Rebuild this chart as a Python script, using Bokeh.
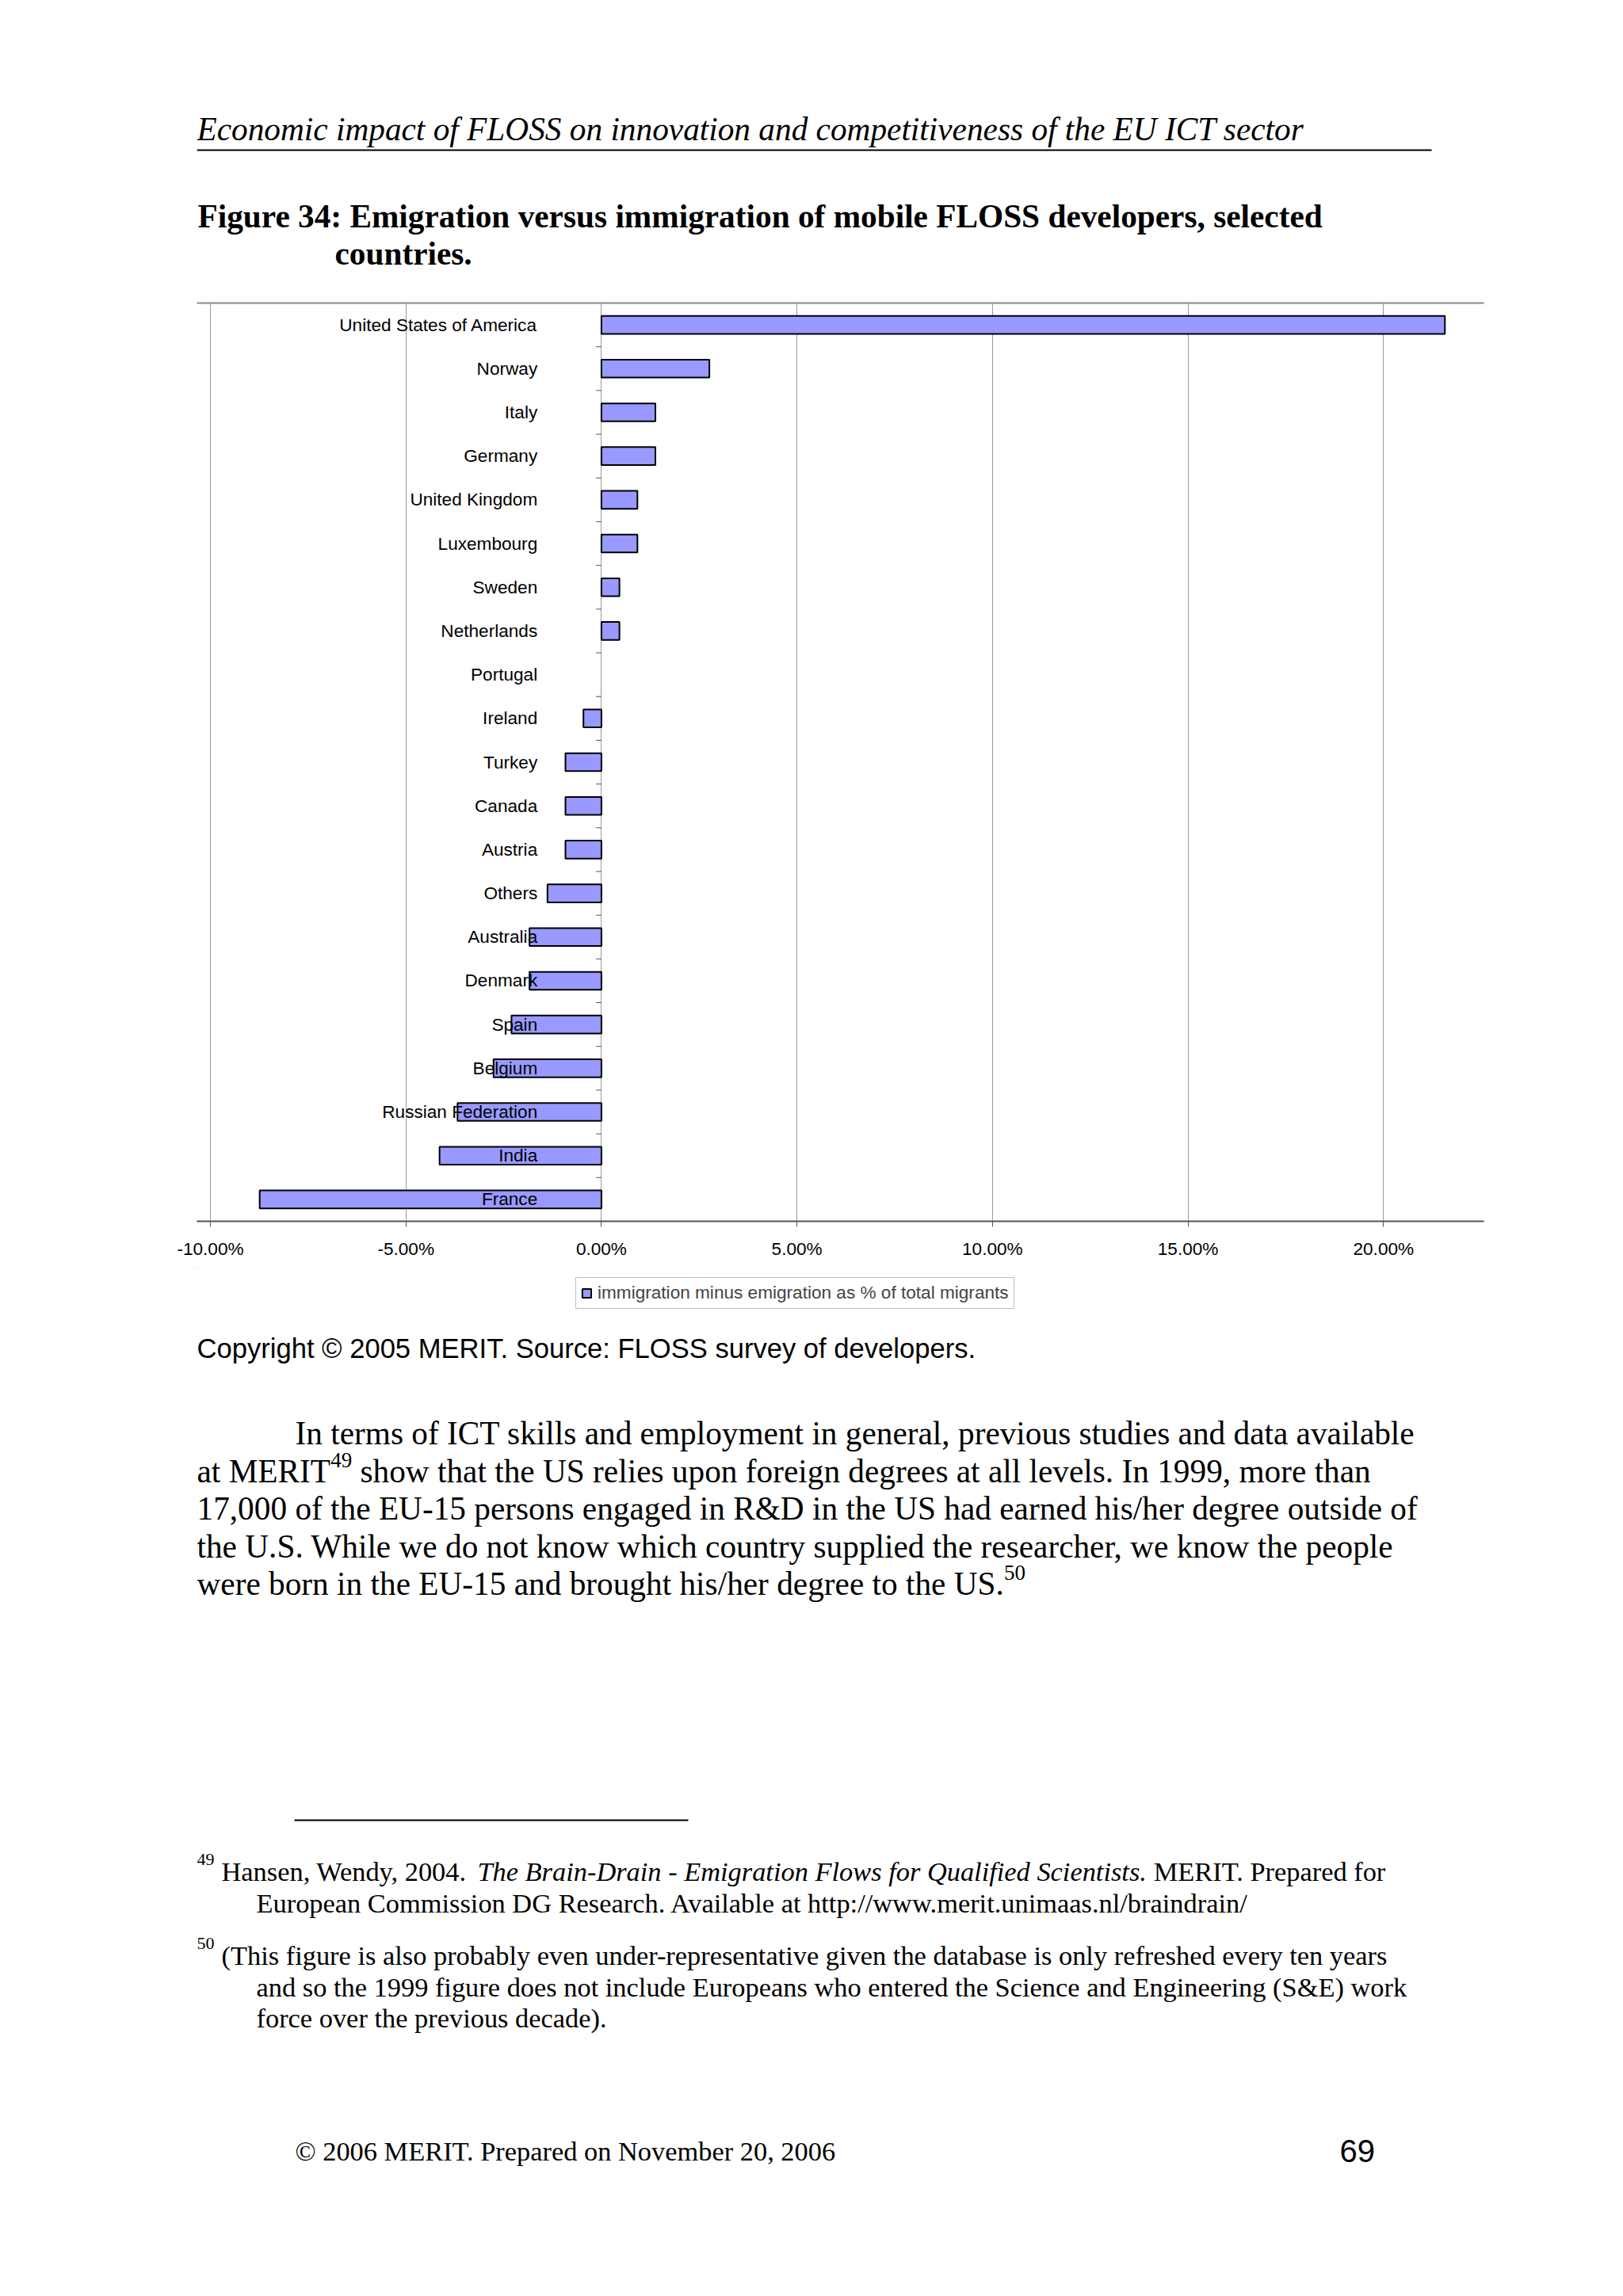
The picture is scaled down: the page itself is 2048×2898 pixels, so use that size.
import numpy as np
from bokeh.plotting import figure
from bokeh.models import (Range1d, FixedTicker, NumeralTickFormatter, LinearAxis,
                          Legend, LegendItem, ColumnDataSource)
from bokeh.layouts import column
from bokeh.core.properties import value
from bokeh.embed import file_html
from bokeh.resources import INLINE

# ---------------- data ----------------
categories = ["United States of America", "Norway", "Italy", "Germany", "United Kingdom",
              "Luxembourg", "Sweden", "Netherlands", "Portugal", "Ireland", "Turkey",
              "Canada", "Austria", "Others", "Australia", "Denmark", "Spain", "Belgium",
              "Russian Federation", "India", "France"]
values_pct = [21.57, 2.76, 1.38, 1.38, 0.92, 0.92, 0.46, 0.46, 0.0, -0.46, -0.92,
              -0.92, -0.92, -1.38, -1.84, -1.84, -2.30, -2.76, -3.68, -4.14, -8.74]
x_ticks_pct = [-10, -5, 0, 5, 10, 15, 20]
legend_label = "immigration minus emigration as % of total migrants"

header_text = "Economic impact of FLOSS on innovation and competitiveness of the EU ICT sector"
title_lines = ["Figure 34: Emigration versus immigration of mobile FLOSS developers, selected",
               "countries."]
source_note = "Copyright \u00a9 2005 MERIT. Source: FLOSS survey of developers."
body_lines = [
    [("In terms of ICT skills and employment in general, previous studies and data available", "n")],
    [("at MERIT", "n"), ("49", "s"), (" show that the US relies upon foreign degrees at all levels. In 1999, more than", "n")],
    [("17,000 of the EU-15 persons engaged in R&D in the US had earned his/her degree outside of", "n")],
    [("the U.S. While we do not know which country supplied the researcher, we know the people", "n")],
    [("were born in the EU-15 and brought his/her degree to the US.", "n"), ("50", "s")],
]
footnotes = [
    ("49", [[("Hansen, Wendy, 2004. ", "n"),
             ("The Brain-Drain - Emigration Flows for Qualified Scientists.", "i"),
             (" MERIT. Prepared for", "n")],
            [("European Commission DG Research. Available at http://www.merit.unimaas.nl/braindrain/", "n")]]),
    ("50", [[("(This figure is also probably even under-representative given the database is only refreshed every ten years", "n")],
            [("and so the 1999 figure does not include Europeans who entered the Science and Engineering (S&E) work", "n")],
            [("force over the previous decade).", "n")]]),
]
footer_text = "\u00a9 2006 MERIT. Prepared on November 20, 2006"
page_number = "69"

# ---------------- fonts & metrics ----------------
SERIF = "Liberation Serif"
SANS = "Liberation Sans"

TIMES = {' ': 250, '!': 333, '"': 408, '#': 500, '$': 500, '%': 833, '&': 778, "'": 180,
         '(': 333, ')': 333, '*': 500, '+': 564, ',': 250, '-': 333, '.': 250, '/': 278,
         ':': 278, ';': 278, '?': 444, '@': 921, '\u00a9': 760,
         'A': 722, 'B': 667, 'C': 667, 'D': 722, 'E': 611, 'F': 556, 'G': 722, 'H': 722,
         'I': 333, 'J': 389, 'K': 722, 'L': 611, 'M': 889, 'N': 722, 'O': 722, 'P': 556,
         'Q': 722, 'R': 667, 'S': 556, 'T': 611, 'U': 722, 'V': 722, 'W': 944, 'X': 722,
         'Y': 722, 'Z': 611,
         'a': 444, 'b': 500, 'c': 444, 'd': 500, 'e': 444, 'f': 333, 'g': 500, 'h': 500,
         'i': 278, 'j': 278, 'k': 500, 'l': 278, 'm': 778, 'n': 500, 'o': 500, 'p': 500,
         'q': 500, 'r': 333, 's': 389, 't': 278, 'u': 500, 'v': 500, 'w': 722, 'x': 500,
         'y': 500, 'z': 444}
for d in "0123456789":
    TIMES[d] = 500
TIMES_I = dict(TIMES)
TIMES_I.update({'A': 611, 'B': 611, 'C': 667, 'D': 722, 'E': 611, 'F': 611, 'G': 722,
                'L': 556, 'M': 833, 'N': 667, 'P': 611, 'Q': 722, 'R': 611, 'S': 500,
                'T': 556, 'W': 833,
                'a': 500, 'f': 278, 'k': 444, 'm': 722, 'r': 389, 'v': 444, 'w': 667,
                'x': 444, 'y': 444, 'z': 389})


def tw(s, size, table=TIMES):
    return sum(table.get(ch, 500) for ch in s) / 1000.0 * size


# every figure shares the same horizontal frame: page x 248 .. 1872
PAGE_W = 2040
FRAME_L, FRAME_R = 248, 1872
BORDER_R = PAGE_W - FRAME_R
BAR_FILL = "#9999FF"
BAR_LINE = "black"
TEXT_DY = -13  # baseline correction for the page texts


def text_fig(height):
    p = figure(width=PAGE_W, height=height, x_range=Range1d(FRAME_L, FRAME_R),
               y_range=Range1d(height, 0), output_backend="svg", toolbar_location=None,
               x_axis_location=None, y_axis_location=None,
               min_border_left=FRAME_L, min_border_right=BORDER_R,
               min_border_top=0, min_border_bottom=0)
    p.outline_line_color = None
    p.grid.visible = False
    p.background_fill_color = "white"
    p.border_fill_color = "white"
    return p


def put(p, top, X, Y, txt, font, size, style="normal", align="left"):
    p.text(x=[X], y=[Y - top + TEXT_DY], text=[txt], text_font=value(font),
           text_font_size=f"{size}px", text_font_style=style, text_align=align,
           text_baseline="alphabetic", text_color="black")


def put_segments(p, top, X, Y, segs, size, sup_size, sup_raise):
    x = X
    for txt, kind in segs:
        table = TIMES_I if kind == "i" else TIMES
        sz = sup_size if kind == "s" else size
        lead = len(txt) - len(txt.lstrip(" "))
        x += tw(" " * lead, sz, table)
        core = txt.strip(" ")
        if core:
            put(p, top, x, Y - (sup_raise if kind == "s" else 0), core, SERIF, sz,
                "italic" if kind == "i" else "normal")
        x += tw(txt.lstrip(" "), sz, table)


BODY = 41.3
NOTE = 34.4

# ---------------- header figure (page y 0 .. 375) ----------------
head = text_fig(375)
put(head, 0, 248, 175, header_text, SERIF, BODY, "italic")
head.line(x=[248, 1806], y=[189, 189], line_color="black", line_width=2)
put(head, 0, 249, 285.5, title_lines[0], SERIF, BODY, "bold")
put(head, 0, 422, 332, title_lines[1], SERIF, BODY, "bold")

# ---------------- chart figure (page y 375 .. 1600) ----------------
CH_TOP, CH_H = 375, 1225
x_start, x_end = -0.103445, 0.22568
px_per_unit = (FRAME_R - FRAME_L) / (x_end - x_start)

n = len(categories)
ys = [n - i - 0.5 for i in range(n)]
vals = np.array(values_pct) / 100.0
src = ColumnDataSource(dict(y=ys, right=vals, cat=categories,
                            la=[0.0 if v == 0 else 1.0 for v in values_pct]))

ch = figure(width=PAGE_W, height=CH_H, x_range=Range1d(x_start, x_end), y_range=Range1d(0, n),
            output_backend="svg", toolbar_location=None, y_axis_location=None,
            min_border_left=FRAME_L, min_border_right=BORDER_R, min_border_top=7,
            min_border_bottom=59)
ch.outline_line_color = None
ch.background_fill_color = "white"
ch.border_fill_color = "white"

ticks = [t / 100.0 for t in x_ticks_pct]
ax = ch.xaxis[0]
ax.ticker = FixedTicker(ticks=ticks)
ax.formatter = NumeralTickFormatter(format="0.00%")
ax.major_label_text_font = SANS
ax.major_label_text_font_size = "22.6px"
ax.major_label_text_color = "black"
ax.major_label_standoff = 15
ax.major_tick_out = 7
ax.major_tick_in = 0
ax.major_tick_line_color = "#555555"
ax.minor_tick_line_color = None
ax.axis_line_color = "#555555"
ax.axis_line_width = 2

top_axis = LinearAxis(ticker=FixedTicker(ticks=[]), major_tick_out=0, major_tick_in=0,
                      minor_tick_line_color=None, major_label_standoff=0,
                      axis_line_color="#8a8a8a", axis_line_width=2)
ch.add_layout(top_axis, "above")

ch.xgrid.grid_line_color = "#9a9a9a"
ch.xgrid.grid_line_width = 1
ch.ygrid.visible = False

bars = ch.hbar(y="y", left=0, right="right", height=0.41, source=src,
               fill_color=BAR_FILL, line_color=BAR_LINE, line_width=2, line_alpha="la")

# small ticks on the category axis, at category boundaries
tick_len = 7 / px_per_unit
bounds = list(range(1, n))
ch.segment(x0=[-tick_len] * len(bounds), x1=[0] * len(bounds), y0=bounds, y1=bounds,
           line_color="#555555", line_width=1)

label_x = x_start + (677.7 - FRAME_L) / px_per_unit
ch.text(x=label_x, y="y", text="cat", source=src, text_align="right",
        text_baseline="middle", text_font=value(SANS), text_font_size="22.6px",
        text_color="black")

# ---------------- lower figure (page y 1600 .. 2880) ----------------
L_TOP = CH_TOP + CH_H
L_H = 2880 - L_TOP
low = text_fig(L_H)

# legend of the chart series (a key renderer with the series' glyph style, kept off-canvas)
key_src = ColumnDataSource(dict(y=[-100.0], right=[FRAME_L]))
key = low.hbar(y="y", right="right", left=FRAME_L, height=1, source=key_src,
               fill_color=BAR_FILL, line_color=BAR_LINE, line_width=2)
leg = Legend(items=[LegendItem(label=legend_label, renderers=[key])],
             location=(726 - FRAME_L, L_H - (1652 - L_TOP)), padding=6, margin=0, spacing=0,
             glyph_width=14, glyph_height=14, label_standoff=7,
             label_text_font=SANS, label_text_font_size="22.6px",
             border_line_color="#808080", border_line_width=1,
             background_fill_color="white", background_fill_alpha=1.0)
low.add_layout(leg)

put(low, L_TOP, 248, 1714, source_note, SANS, 34.6)

body_x = [372, 248, 248, 248, 248]
body_y = [1821.5, 1869, 1916.5, 1964, 2011.5]
for segs, bx, by in zip(body_lines, body_x, body_y):
    put_segments(low, L_TOP, bx, by, segs, BODY, 27, 14)

low.line(x=[371, 868], y=[2297 - L_TOP] * 2, line_color="black", line_width=2)

note_y = [[2374, 2414], [2480, 2520.5, 2559.5]]
for (mark, lines), ly in zip(footnotes, note_y):
    put(low, L_TOP, 248, ly[0] - 15, mark, SERIF, 22)
    for j, (segs, yy) in enumerate(zip(lines, ly)):
        put_segments(low, L_TOP, 279 if j == 0 else 323, yy, segs, NOTE, 22, 15)

put(low, L_TOP, 372, 2727, footer_text, SERIF, NOTE)
put(low, L_TOP, 1690, 2727, page_number, SANS, 40)

page = column(head, ch, low)
open("out.html", "w").write(file_html(page, INLINE))
